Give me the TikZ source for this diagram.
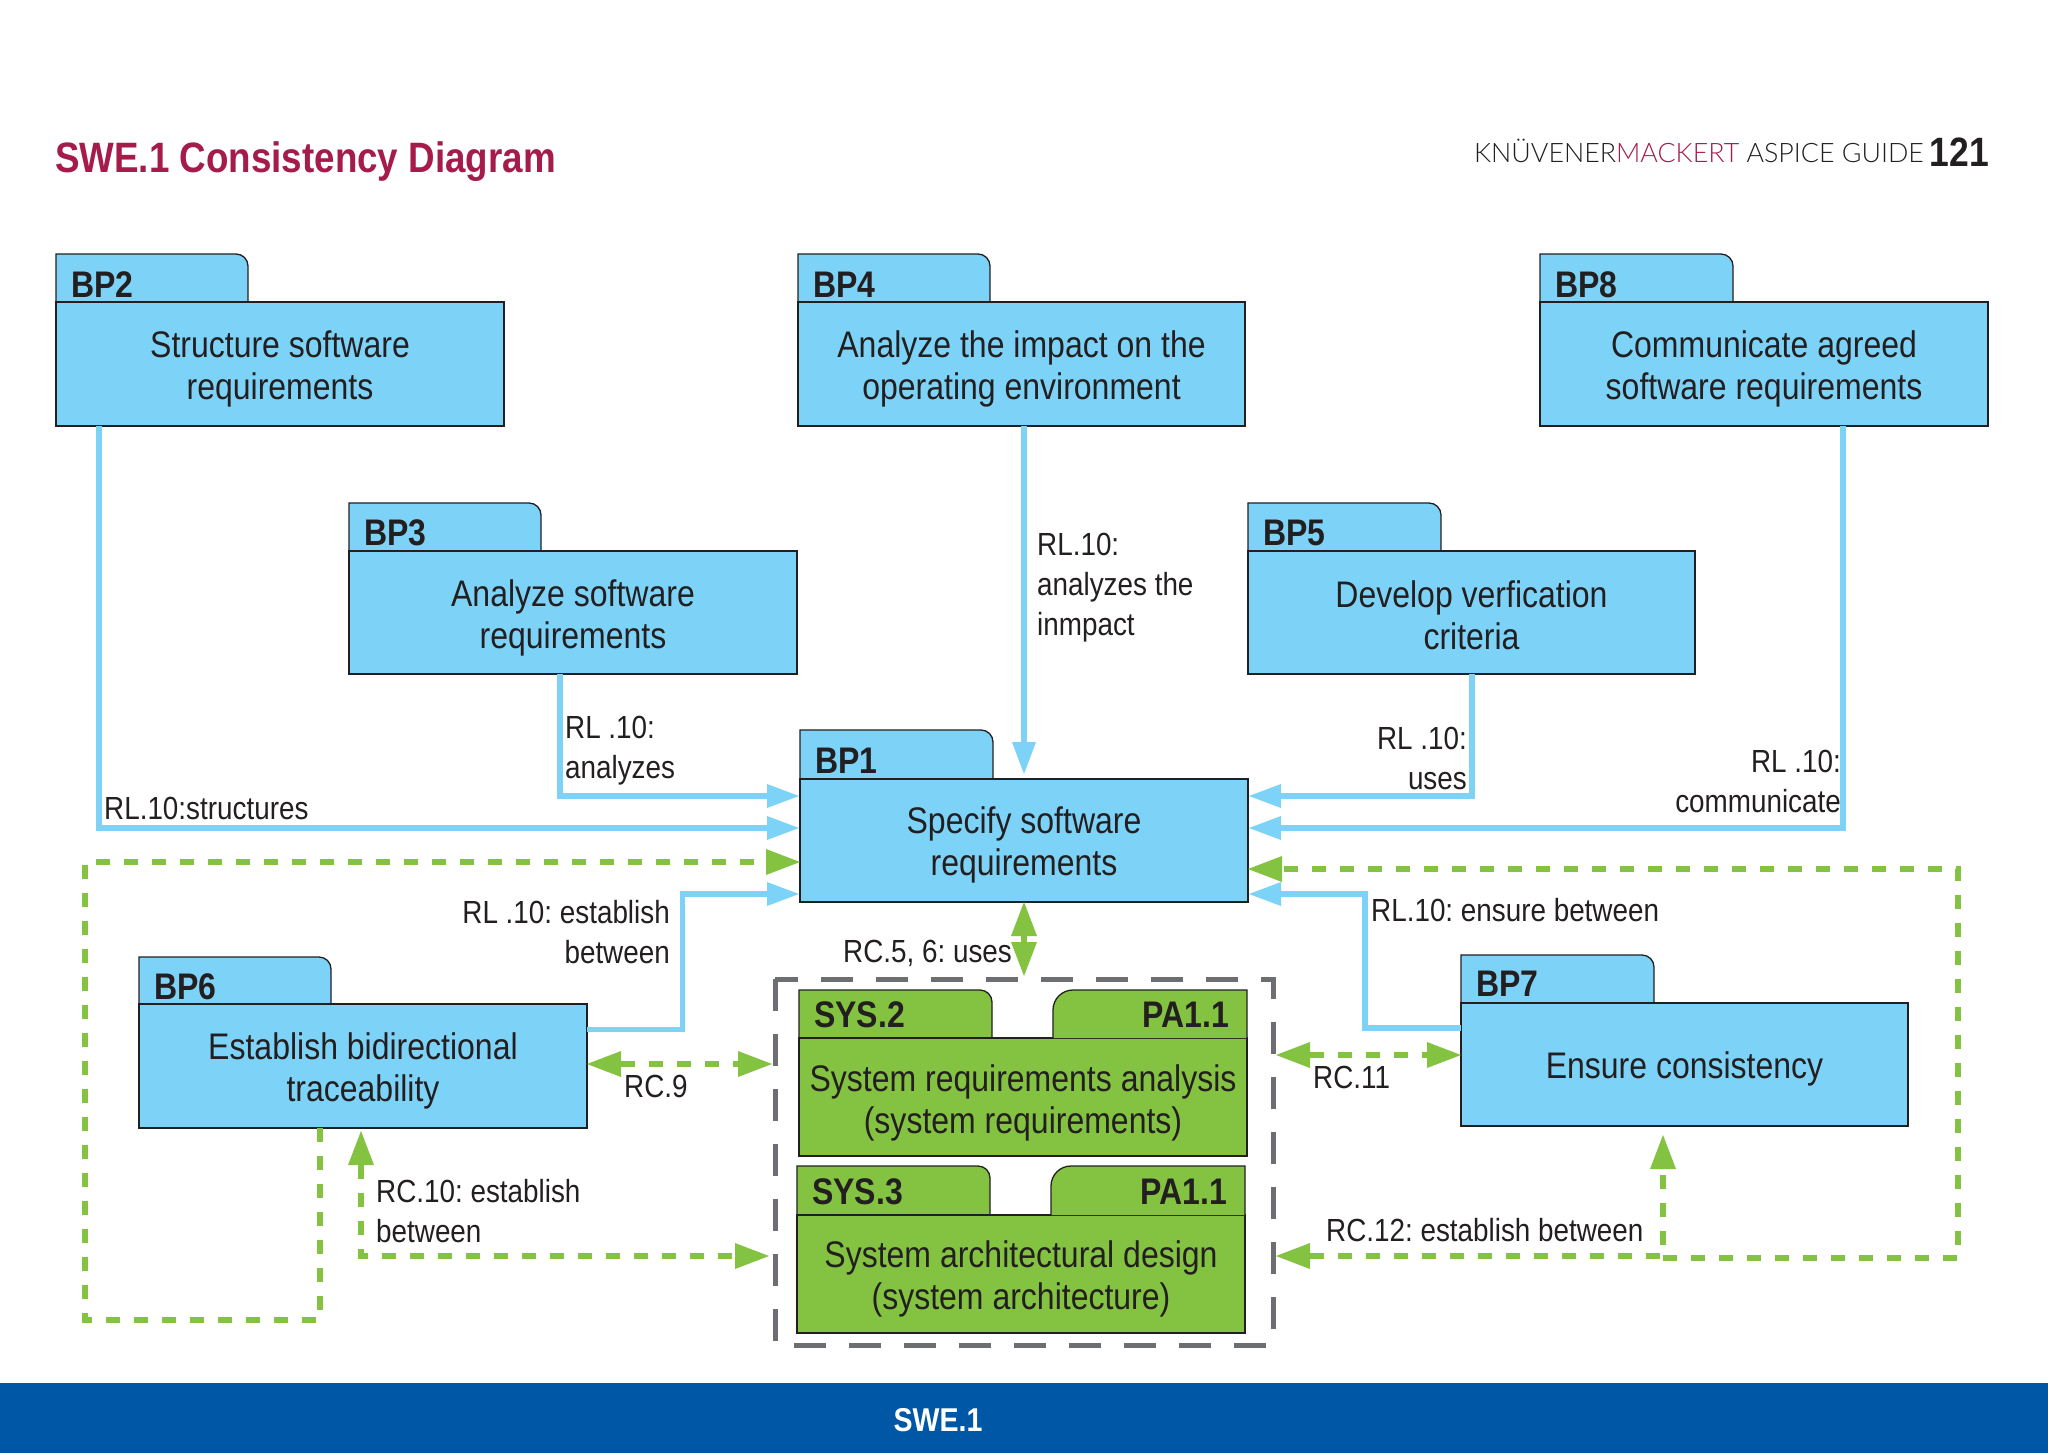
\documentclass[tikz,border=0pt]{standalone}
\usepackage{fontspec}
\usetikzlibrary{arrows.meta}
\setmainfont{Liberation Sans}
\newfontfamily\nar{Liberation Sans}[FakeStretch=0.865]
\newfontfamily\narl{Liberation Sans}[FakeStretch=0.87]
\newfontfamily\hdr{Lato Light}
\definecolor{bluef}{HTML}{7DD3F7}
\definecolor{greenf}{HTML}{84C341}
\definecolor{inkc}{HTML}{231F20}
\definecolor{titlec}{HTML}{A51C4B}
\definecolor{footc}{HTML}{0057A5}
\definecolor{greyc}{HTML}{6D6E71}
\newcommand\bodyf{\nar\fontsize{37}{42}\selectfont}
\newcommand\tabf{\nar\bfseries\fontsize{37}{42}\selectfont}
\newcommand\lblf{\narl\fontsize{32}{40}\selectfont}
\newcommand\bshift{-5pt}
\tikzset{
  x=1pt,y=-1pt,
  pk/.style={draw=inkc,line width=1.3pt,fill=#1},
  body/.style={rectangle,draw=inkc,line width=1.3pt,fill=#1,inner sep=0pt,outer sep=0pt},
  btext/.style={inner sep=0pt,outer sep=0pt,align=center,font=\bodyf,text=inkc},
  tabl/.style={anchor=base west,inner sep=0pt,font=\tabf,text=inkc},
  tabr/.style={anchor=base east,inner sep=0pt,font=\tabf,text=inkc},
  lblw/.style={anchor=base west,inner sep=0pt,align=left,font=\lblf,text=inkc},
  lble/.style={anchor=base east,inner sep=0pt,align=right,font=\lblf,text=inkc},
  tb/.tip={Triangle[length=32pt,width=24pt,fill=bluef,line width=0pt]},
  tg/.tip={Triangle[length=34pt,width=26pt,fill=greenf,line width=0pt]},
  bl/.style={draw=bluef,line width=5.2pt,-tb,shorten >=1pt},
  gr/.style={draw=greenf,line width=5.5pt,dash pattern=on 14pt off 14pt},
  grbox/.style={draw=greyc,line width=5pt,dash pattern=on 32pt off 23pt},
}
% name, left, tabright, right, tabtop, bodytop, bottom, colour, body
\newcommand\pkg[9]{%
  \draw[pk=#8] (#2,#6) -- (#2,#5) [rounded corners=12pt] -- (#3,#5) [sharp corners] -- (#3,#6);
  \node[body=#8,minimum width={#4-#2},minimum height={#7-#6}] (#1) at ({(#2+#4)/2},{(#6+#7)/2}) {};
  \node[btext] (#1x) at ([yshift=\bshift]#1.center) {#9};
}
\begin{document}
\frenchspacing
\begin{tikzpicture}
\useasboundingbox (0,0) rectangle (2048,1453);
\fill[white] (0,0) rectangle (2048,1453);
\fill[footc] (0,1383) rectangle (2048,1453);
\node[inner sep=0pt,text=white,font=\nar\bfseries\fontsize{33}{40}\selectfont] (foot) at (938,1420) {SWE.1};
\node[anchor=base west,inner sep=0pt,text=titlec,font=\nar\bfseries\fontsize{42.5}{50}\selectfont] (title) at (55,172) {SWE.1 Consistency Diagram};
\node[anchor=base west,inner sep=0pt,font=\hdr\fontsize{26.8}{30}\selectfont,text=inkc] (hdr) at (1474,162) {KNÜVENER\textcolor{titlec}{MACKERT} ASPICE GUIDE};
\node[anchor=base east,inner sep=0pt,font=\nar\bfseries\fontsize{41}{44}\selectfont,text=inkc] (pg) at (1989,167) {121};

% grey frame
\draw[grbox] (775,979) rectangle (1273,1345);

\pkg{bp2}{56}{248}{504}{254}{302}{426}{bluef}{Structure software\\requirements}
\node[tabl] (bp2t) at (71,297) {BP2};
\pkg{bp4}{798}{990}{1245}{254}{302}{426}{bluef}{Analyze the impact on the\\operating environment}
\node[tabl] (bp4t) at (813,297) {BP4};
\pkg{bp8}{1540}{1733}{1988}{254}{302}{426}{bluef}{Communicate agreed\\software requirements}
\node[tabl] (bp8t) at (1555,297) {BP8};
\pkg{bp3}{349}{541}{797}{503}{551}{674}{bluef}{Analyze software\\requirements}
\node[tabl] (bp3t) at (364,545) {BP3};
\renewcommand\bshift{-2.5pt}
\pkg{bp5}{1248}{1441}{1695}{503}{551}{674}{bluef}{Develop verfication\\criteria}
\node[tabl] (bp5t) at (1263,545) {BP5};
\renewcommand\bshift{-4pt}
\pkg{bp1}{800}{993}{1248}{730}{779}{902}{bluef}{Specify software\\requirements}
\node[tabl] (bp1t) at (815,773) {BP1};
\renewcommand\bshift{-5pt}
\pkg{bp6}{139}{331}{587}{957}{1004}{1128}{bluef}{Establish bidirectional\\traceability}
\node[tabl] (bp6t) at (154,999) {BP6};
\renewcommand\bshift{-4pt}
\pkg{bp7}{1461}{1654}{1908}{955}{1003}{1126}{bluef}{Ensure consistency}
\node[tabl] (bp7t) at (1476,996) {BP7};

\renewcommand\bshift{-5.5pt}
\pkg{sys2}{799}{992}{1247}{990}{1038}{1156}{greenf}{System requirements analysis\\(system requirements)}
\draw[pk=greenf] (1053,1038) [rounded corners=20pt] -- (1053,990) [sharp corners] -- (1247,990) -- (1247,1038);
\node[tabl] (sys2t) at (814,1027) {SYS.2};
\node[tabr] (pa2t) at (1229,1027) {PA1.1};
\renewcommand\bshift{-5pt}
\pkg{sys3}{797}{990}{1245}{1166}{1215}{1333}{greenf}{System architectural design\\(system architecture)}
\draw[pk=greenf] (1051,1215) [rounded corners=20pt] -- (1051,1166) [sharp corners] -- (1245,1166) -- (1245,1215);
\node[tabl] (sys3t) at (812,1204) {SYS.3};
\node[tabr] (pa3t) at (1227,1204) {PA1.1};

\coordinate (frameT) at (1024,976);
\coordinate (frameLa) at (772,1064);
\coordinate (frameLb) at (769,1256);
\coordinate (frameRa) at (1276,1055);
\coordinate (frameRb) at (1276,1256);
\coordinate (turnG) at (1663,1258);
\coordinate (tipG) at (1663,1135);

% blue connectors
\draw[bl] ([xshift=43pt]bp2.south west) |- ([yshift=12.5pt]bp1.west);
\draw[bl] ([xshift=211pt]bp3.south west) |- ([yshift=44.5pt]bp1.west);
\draw[bl] (bp4.south -| bp1.north) -- ([yshift=4pt]bp1.north);
\draw[bl] ([xshift=224pt]bp5.south west) |- ([yshift=44.5pt]bp1.east);
\draw[bl] ([xshift=303pt]bp8.south west) |- ([yshift=12.5pt]bp1.east);
\draw[bl] ([yshift=36.5pt]bp6.east) -- ++(95.5,0) |- ([yshift=-53.5pt]bp1.west);
\draw[bl] ([yshift=36.5pt]bp7.west) -- ++(-96,0) |- ([yshift=-53.5pt]bp1.east);

% green connectors
\draw[gr,-tg] (bp6.south -| 320,0) -- ++(0,192) -| (85,862) -- ([yshift=-21.5pt]bp1.west);
\draw[gr,tg-tg] ([xshift=-2pt,yshift=-3pt]bp6.south) |- (frameLb);
\draw[gr,tg-tg] (bp6.east |- frameLa) -- (frameLa);
\draw[gr,tg-tg] (bp1.south) -- (frameT);
\draw[gr,tg-tg] (frameRa) -- (bp7.west |- frameRa);
\draw[gr,tg-tg] (frameRb) -| (tipG);
\draw[gr,-tg] (turnG) -- (1958,1258) |- ([yshift=-28.5pt]bp1.east);

% labels
\node[lblw] (l1) at (104,819) {RL.10:structures};
\node[lblw] (l2) at (565,778) {RL .10:\\analyzes};
\node[lblw] (l3) at (1037,635) {RL.10:\\analyzes the\\inmpact};
\node[lble] (l4) at (1467,789) {RL .10:\\uses};
\node[lble] (l5) at (1841,812) {RL .10:\\communicate};
\node[lblw] (l6) at (1371,921) {RL.10: ensure between};
\node[lble] (l7) at (670,963) {RL .10: establish\\between};
\node[lblw] (l8) at (843,962) {RC.5, 6: uses};
\node[lblw] (l9) at (624,1097) {RC.9};
\node[lblw] (l10) at (376,1242) {RC.10: establish\\between};
\node[lblw] (l11) at (1313,1088) {RC.11};
\node[lblw] (l12) at (1326,1241) {RC.12: establish between};
\end{tikzpicture}
\end{document}
